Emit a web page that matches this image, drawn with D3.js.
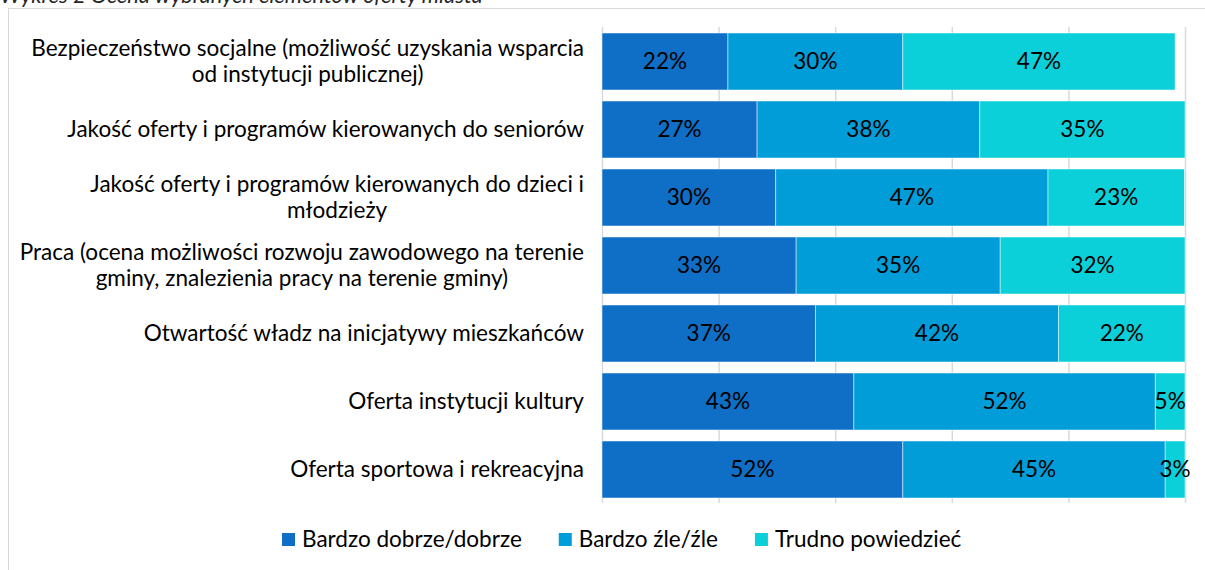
<!DOCTYPE html>
<html><head><meta charset="utf-8">
<script src="https://cdn.jsdelivr.net/npm/d3@7"></script>
<style>body{margin:0;background:#fff}svg{display:block}text{font-family:Lato,"Open Sans",sans-serif}</style>
</head><body>
<svg id="c" width="1205" height="570"></svg>
<script>
const title = "Wykres 2 Ocena wybranych elementów oferty miasta";
const categories = [
  "Bezpieczeństwo socjalne (możliwość uzyskania wsparcia od instytucji publicznej)",
  "Jakość oferty i programów kierowanych do seniorów",
  "Jakość oferty i programów kierowanych do dzieci i młodzieży",
  "Praca (ocena możliwości rozwoju zawodowego na terenie gminy, znalezienia pracy na terenie gminy)",
  "Otwartość władz na inicjatywy mieszkańców",
  "Oferta instytucji kultury",
  "Oferta sportowa i rekreacyjna"
];
const seriesNames = ["Bardzo dobrze/dobrze", "Bardzo źle/źle", "Trudno powiedzieć"];
const good    = [21.6, 26.6, 29.8, 33.3, 36.6, 43.2, 51.6];
const bad     = [30.0, 38.2, 46.7, 35.0, 41.7, 51.7, 45.0];
const unknown = [46.7, 35.2, 23.4, 31.7, 21.7, 5.1, 3.4];
const xTicks = [0, 20, 40, 60, 80, 100];
const colors = ["#0F6FC6", "#009DD9", "#0BD0D9"];

const svg = d3.select("#c");

// font size fitted so label widths match reference
const probe = svg.append("text").style("font-size", "20px").text("Oferta sportowa i rekreacyjna");
const fs = 20 * 294 / probe.node().getComputedTextLength();
probe.remove();
const probe2 = svg.append("text").style("font-size", "20px").style("font-style", "italic").text(title);
const tfs = 20 * 483 / probe2.node().getComputedTextLength();
probe2.remove();

// frame
svg.append("rect").attr("x", 8.5).attr("y", 8.5).attr("width", 1300).attr("height", 700)
  .attr("fill", "none").attr("stroke", "#d9d9d9").attr("stroke-width", 1);

// title (cut off at top edge as in the reference)
svg.append("text").attr("x", 0).attr("y", 3).style("font-style", "italic")
  .style("font-size", tfs + "px").attr("fill", "#262626").text(title);

const x = d3.scaleLinear().domain([0, 100]).range([602, 1185]);
const y = d3.scaleBand().domain(categories).range([27.5, 503.5]).paddingInner(0.162).paddingOuter(0.081);

// gridlines
svg.append("g")
  .call(d3.axisBottom(x).tickValues(xTicks).tickSize(476).tickFormat(""))
  .call(g => g.attr("transform", "translate(0,27)"))
  .call(g => g.select(".domain").remove())
  .call(g => g.selectAll(".tick line").attr("stroke", "#d9d9d9").attr("stroke-width", 1.5));

// stacked bars
const stackData = categories.map((c, i) => ({cat: c, s0: good[i], s1: bad[i], s2: unknown[i]}));
const stacked = d3.stack().keys(["s0", "s1", "s2"])(stackData);
const gBars = svg.append("g");
stacked.forEach((layer, k) => {
  gBars.selectAll(null).data(layer).join("rect")
    .attr("x", d => x(d[0])).attr("y", d => y(d.data.cat))
    .attr("width", d => x(d[1]) - x(d[0])).attr("height", y.bandwidth())
    .attr("fill", colors[k]).attr("stroke", "#ffffff").attr("stroke-opacity", 0.6).attr("stroke-width", 0.8);
});
stacked.forEach((layer, k) => {
  gBars.selectAll(null).data(layer).join("text")
    .attr("x", d => (x(d[0]) + x(d[1])) / 2)
    .attr("y", d => y(d.data.cat) + y.bandwidth() / 2)
    .attr("dy", "0.35em").attr("text-anchor", "middle")
    .style("font-size", fs + "px").attr("fill", "#000")
    .text(d => Math.round(d[1] - d[0]) + "%");
});

// category labels with wrapping
const maxW = 568;
const gLab = svg.append("g");
categories.forEach(c => {
  const t = gLab.append("text").attr("text-anchor", "middle").style("font-size", fs + "px").attr("fill", "#000");
  const words = c.split(" ");
  const lines = [];
  let cur = [];
  const m = svg.append("text").style("font-size", fs + "px");
  words.forEach(w => {
    const test = cur.concat([w]).join(" ");
    m.text(test);
    if (m.node().getComputedTextLength() > maxW && cur.length) { lines.push(cur.join(" ")); cur = [w]; }
    else cur.push(w);
  });
  lines.push(cur.join(" "));
  const widths = lines.map(l => { m.text(l); return m.node().getComputedTextLength(); });
  m.remove();
  const bw = d3.max(widths);
  const cx = 584 - bw / 2;
  const cy = y(c) + y.bandwidth() / 2;
  const lh = 26;
  lines.forEach((l, i) => {
    t.append("tspan").attr("x", cx).attr("y", cy + (i - (lines.length - 1) / 2) * lh).attr("dy", "0.35em").text(l);
  });
});

// legend
const gLeg = svg.append("g");
let lx = 282;
seriesNames.forEach((n, k) => {
  gLeg.append("rect").attr("x", lx).attr("y", 533).attr("width", 13).attr("height", 13).attr("fill", colors[k]);
  const t = gLeg.append("text").attr("x", lx + 20).attr("y", 539.5).attr("dy", "0.35em")
    .style("font-size", fs + "px").attr("fill", "#000").text(n);
  lx += 20 + t.node().getComputedTextLength() + 37;
});
</script>
</body></html>
